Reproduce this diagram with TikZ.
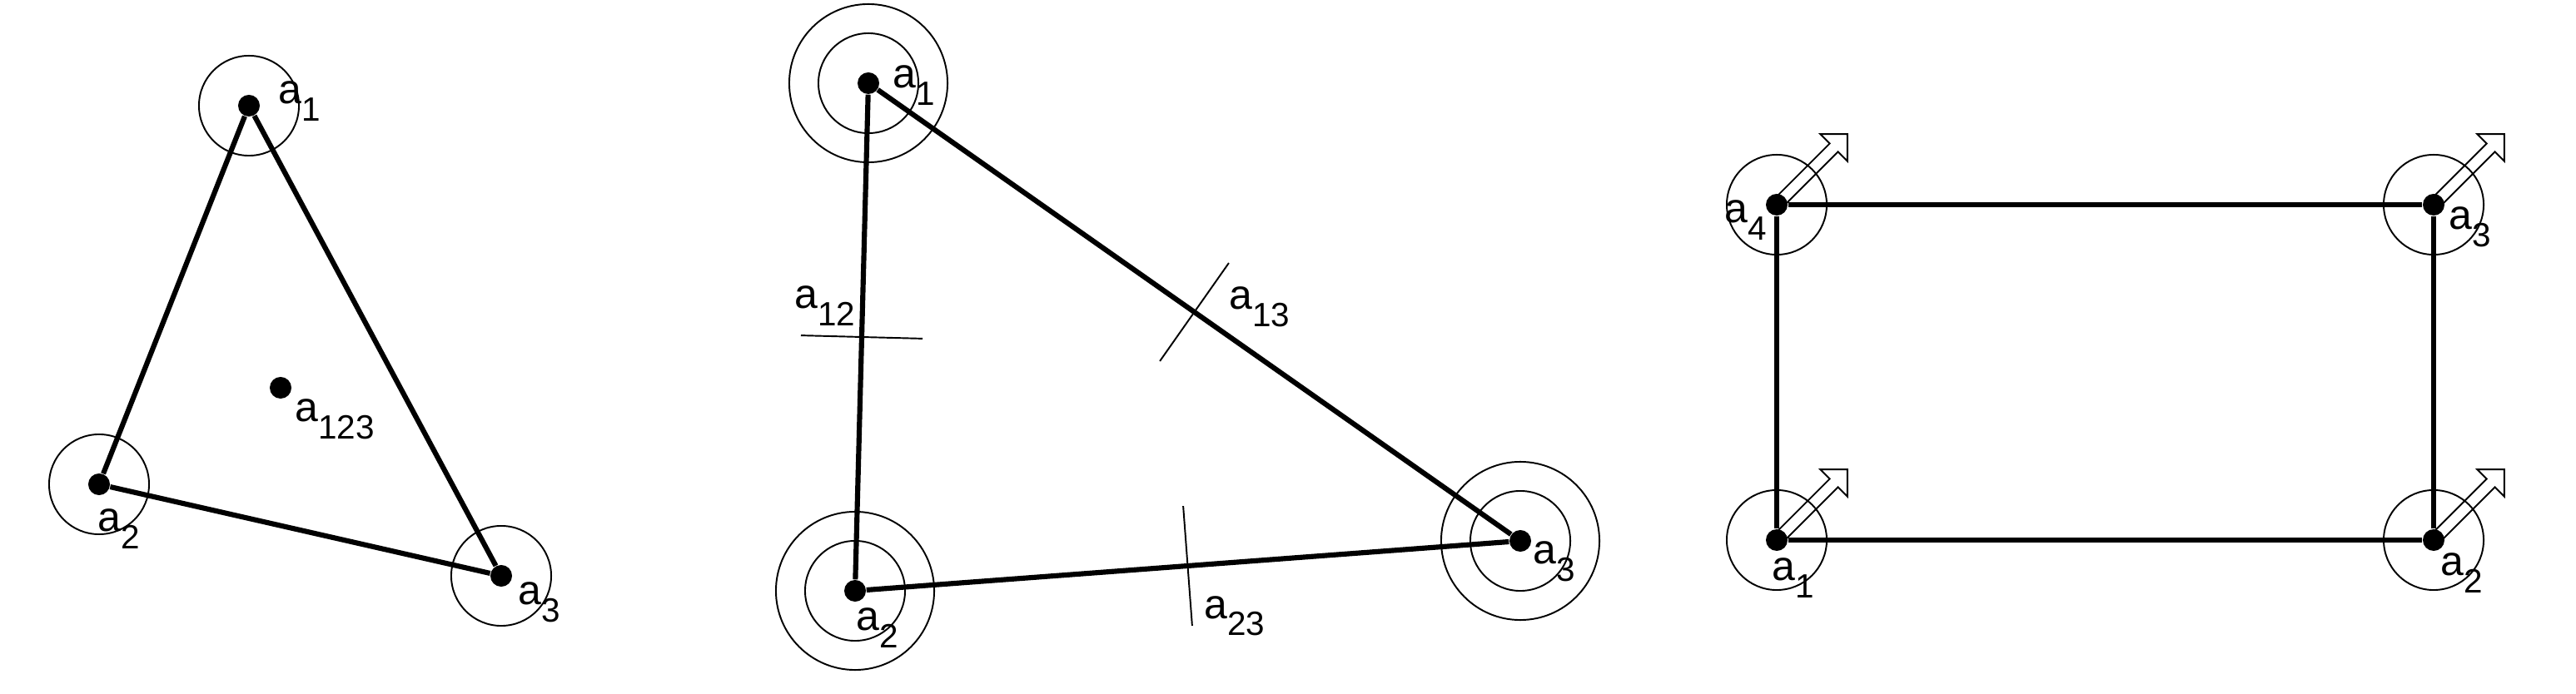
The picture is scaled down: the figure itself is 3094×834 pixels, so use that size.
\documentclass[tikz,border=0pt]{standalone}
\usepackage{fontspec}
\setmainfont{Liberation Sans}
\usetikzlibrary{calc}
\newcommand{\asub}[1]{a\raisebox{-0.2cm}{\fontsize{11.5}{12}\selectfont #1}}
\newcommand{\vecarrow}[1]{\draw[vec, shift={(#1)}, rotate=45] (0,7) -- (97,7) -- (97,23) -- (120,0) -- (97,-23) -- (97,-7) -- (0,-7) -- cycle;}

\begin{document}
\begin{tikzpicture}[
  x=0.01cm, y=-0.01cm,
  dot/.style={circle, fill, inner sep=0pt, minimum size=0.26cm},
  ring/.style={line width=0.55pt},
  edge/.style={line width=1.75pt},
  tick/.style={line width=0.55pt},
  lab/.style={anchor=base west, inner sep=0pt, font=\fontsize{14.2}{16}\selectfont},
  vec/.style={line width=0.55pt, line join=miter}
]
\useasboundingbox (0,0) rectangle (3094,834);

% left: triangle with centre point
\node[dot] (t1) at (299,127) {};
\node[dot] (t2) at (119,582) {};
\node[dot] (t3) at (602,692) {};
\node[dot] (t123) at (337,466) {};
\foreach \p in {t1,t2,t3} \draw[ring] (\p) circle (0.6cm);
\draw[edge] (t1) -- (t2);
\draw[edge] (t2) -- (t3);
\draw[edge] (t3) -- (t1);
\node[lab] (lt1) at (334,125) {\asub{1}};
\node[lab] (lt2) at (117,639) {\asub{2}};
\node[lab] (lt3) at (622,727) {\asub{3}};
\node[lab] (lt123) at (354,507) {\asub{123}};

% middle: triangle with double rings and ticks
\node[dot] (s1) at (1043,100) {};
\node[dot] (s2) at (1027,710) {};
\node[dot] (s3) at (1826,650) {};
\foreach \p in {s1,s2,s3} {
  \draw[ring] (\p) circle (0.6cm);
  \draw[ring] (\p) circle (0.95cm);
}
\draw[edge] (s1) -- (s2);
\draw[edge] (s2) -- (s3);
\draw[edge] (s3) -- (s1);
\coordinate (m12) at ($(s1)!0.5!(s2)$);
\coordinate (m13) at ($(s1)!0.5!(s3)$);
\coordinate (m23) at ($(s2)!0.5!(s3)$);
\draw[tick] ($(m12)!0.73cm!90:(s2)$) -- ($(m12)!0.73cm!-90:(s2)$);
\draw[tick] ($(m13)!0.72cm!90:(s3)$) -- ($(m13)!0.72cm!-90:(s3)$);
\draw[tick] ($(m23)!0.72cm!90:(s3)$) -- ($(m23)!0.72cm!-90:(s3)$);
\node[lab] (ls1) at (1072,106) {\asub{1}};
\node[lab] (ls2) at (1028,758) {\asub{2}};
\node[lab] (ls3) at (1841,678) {\asub{3}};
\node[lab] (ls12) at (954,371) {\asub{12}};
\node[lab] (ls13) at (1476,372) {\asub{13}};
\node[lab] (ls23) at (1446,743) {\asub{23}};

% right: rectangle with hollow arrows
\node[dot] (r1) at (2134,649) {};
\node[dot] (r2) at (2923,649) {};
\node[dot] (r3) at (2923,246) {};
\node[dot] (r4) at (2134,246) {};
\foreach \p in {r1,r2,r3,r4} {
  \draw[ring] (\p) circle (0.6cm);
  \vecarrow{\p}
}
\draw[edge] (r1) -- (r2);
\draw[edge] (r2) -- (r3);
\draw[edge] (r3) -- (r4);
\draw[edge] (r4) -- (r1);
\node[lab] (lr1) at (2128,698) {\asub{1}};
\node[lab] (lr2) at (2931,692) {\asub{2}};
\node[lab] (lr3) at (2941,276) {\asub{3}};
\node[lab] (lr4) at (2071,268) {\asub{4}};
\end{tikzpicture}
\end{document}
